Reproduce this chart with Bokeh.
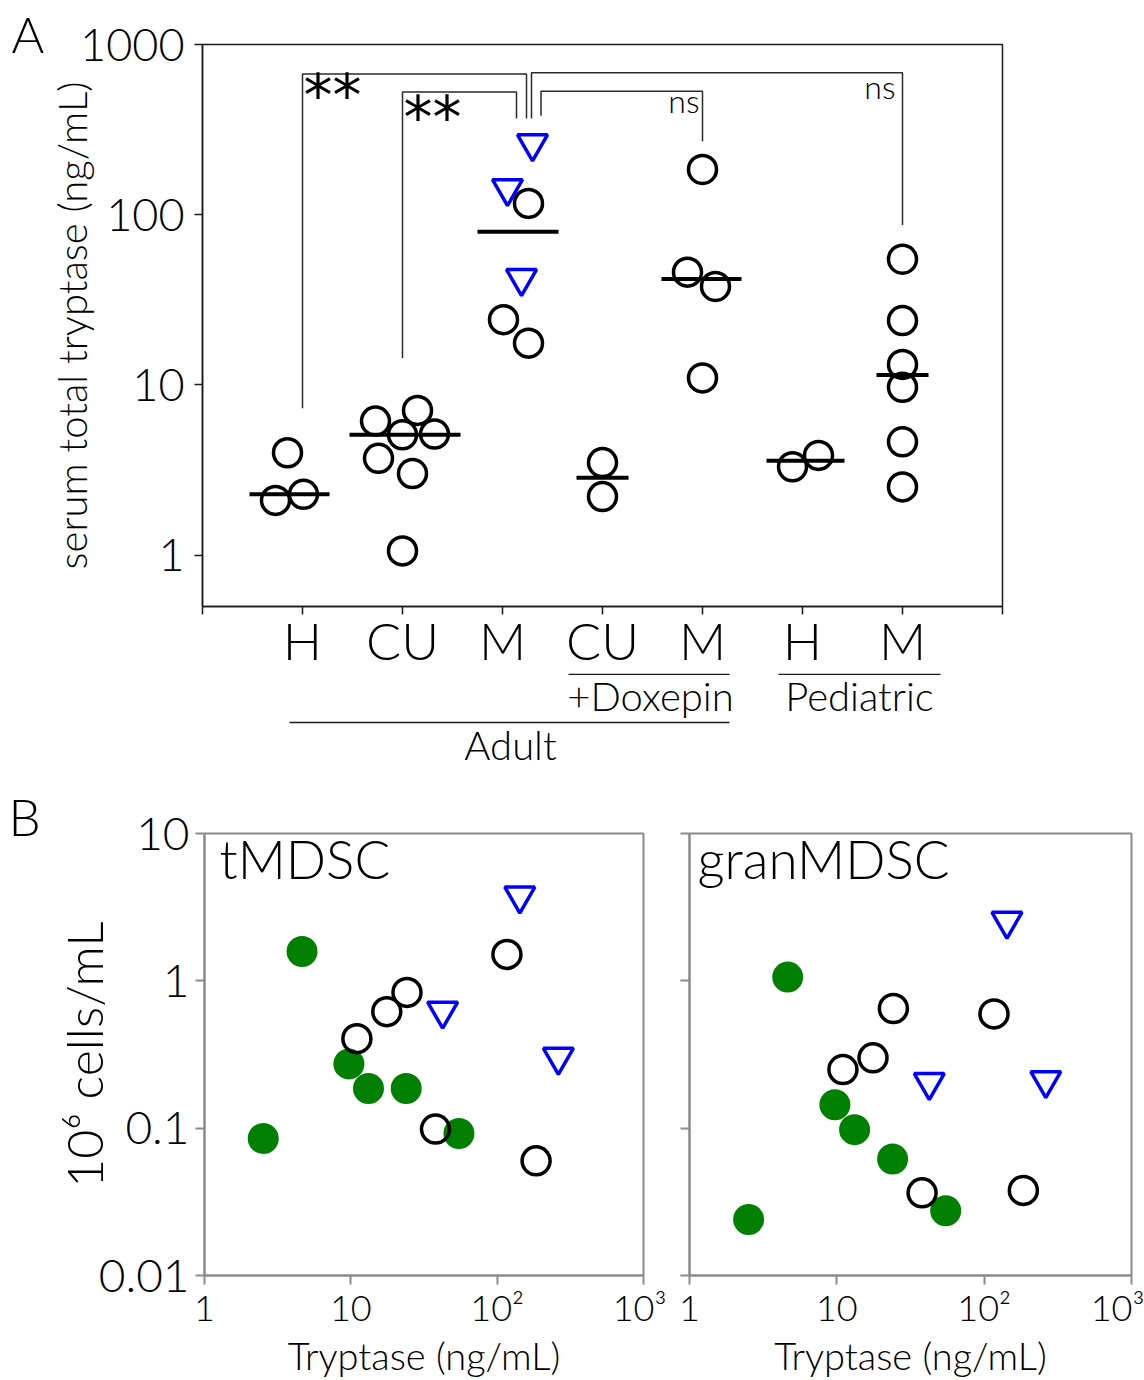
import numpy as np
from bokeh.plotting import figure
from bokeh.models import Range1d, FixedTicker, LinearAxis
from bokeh.layouts import column, row
from bokeh.embed import file_html
from bokeh.resources import INLINE
from bokeh.core.properties import value

FONT = "Lato Light"
STAR_FONT = "DejaVu Sans"
BLUE = "#0000ff"
GREEN = "#008000"
GRAY = "#8a8a8a"
DARK = "#1a1a1a"

# ---------------- Panel A: serum total tryptase (ng/mL) ----------------
categories = ["H", "CU", "M", "CU", "M", "H", "M"]

h_adult = [4.0, 2.1, 2.28]
cu_adult = [6.14, 3.71, 5.1, 7.09, 5.15, 3.02, 1.06]
m_adult_circ = [116.6, 24.2, 17.6]
m_adult_tri = [262.0, 142.8, 42.4]
cu_dox = [3.5, 2.21]
m_dox = [184.5, 46.0, 37.9, 11.0]
h_ped = [3.31, 3.86]
m_ped = [54.8, 23.9, 13.2, 9.7, 4.64, 2.52]

# horizontal spread of the points inside each column
h_adult_dx = [-0.15, -0.27, 0.01]
cu_adult_dx = [-0.27, -0.24, 0.0, 0.15, 0.32, 0.10, 0.0]
m_adult_circ_dx = [0.26, 0.01, 0.26]
m_adult_tri_dx = [0.30, 0.05, 0.19]
cu_dox_dx = [0.0, 0.0]
m_dox_dx = [0.0, -0.15, 0.13, 0.0]
h_ped_dx = [-0.10, 0.16]
m_ped_dx = [0.0, 0.0, 0.0, 0.0, 0.0, 0.0]

groups = [
    (h_adult, h_adult_dx, [], []),
    (cu_adult, cu_adult_dx, [], []),
    (m_adult_circ, m_adult_circ_dx, m_adult_tri, m_adult_tri_dx),
    (cu_dox, cu_dox_dx, [], []),
    (m_dox, m_dox_dx, [], []),
    (h_ped, h_ped_dx, [], []),
    (m_ped, m_ped_dx, [], []),
]

# significance brackets: x_left, x_right, y_top, y_left_end, y_right_end
brackets = [
    (1.0, 3.24, 671, 7.3, 367),
    (2.0, 3.14, 526, 14.4, 367),
    (3.29, 7.0, 683, 367, 87),
    (3.385, 5.0, 531, 381, 270),
]
star_labels = [("**", 1.01, 499), ("**", 2.01, 371)]
ns_labels = [("ns", 6.93, 570), ("ns", 4.97, 472)]


def letter_figure(width, height, letter, center, font_size, standoff):
    """Narrow strip left of a panel that carries the panel letter on its top axis."""
    f = figure(width=width, height=height, x_range=Range1d(0, width), y_range=Range1d(0, 1),
               x_axis_location="above", y_axis_location=None,
               min_border_left=0, min_border_right=0, min_border_top=0, min_border_bottom=0,
               toolbar_location=None, output_backend="svg")
    f.grid.visible = False
    f.outline_line_color = None
    ax = f.xaxis[0]
    ax.ticker = FixedTicker(ticks=[center])
    ax.major_label_overrides = {center: letter}
    ax.axis_line_color = None
    ax.major_tick_line_color = None
    ax.major_tick_out = 0
    ax.major_tick_in = 0
    ax.minor_tick_line_color = None
    ax.minor_tick_out = 0
    ax.major_label_standoff = standoff
    ax.major_label_text_font = FONT
    ax.major_label_text_font_size = font_size
    ax.major_label_text_color = "black"
    return f


pa_left = letter_figure(44, 673, "A", 27.5, "50px", -19)

pa = figure(width=1100, height=673, x_range=Range1d(0, 8), y_range=Range1d(0.5, 1000),
            y_axis_type="log", min_border_left=158, min_border_right=142,
            min_border_top=43, min_border_bottom=67,
            toolbar_location=None, output_backend="svg")
pa.grid.visible = False
pa.outline_line_color = DARK
pa.outline_line_width = 1.5

cx, cy, tx, ty = [], [], [], []
mx0, mx1, my = [], [], []
for i, (circ, cdx, tri, tdx) in enumerate(groups):
    pos = i + 1
    cx += [pos + d for d in cdx]
    cy += circ
    tx += [pos + d for d in tdx]
    ty += tri
    allv = list(circ) + list(tri)
    alld = list(cdx) + list(tdx)
    my.append(float(np.median(allv)))
    mx0.append(pos + min(alld) - 0.26)
    mx1.append(pos + max(alld) + 0.26)

for xl, xr, yt, yle, yre in brackets:
    pa.line([xl, xl, xr, xr], [yle, yt, yt, yre], line_color="#2a2a2a", line_width=1.5)

pa.segment(x0=mx0, y0=my, x1=mx1, y1=my, line_color="black", line_width=4)
pa.scatter(cx, cy, marker="circle", size=28, fill_color=None, line_color="black", line_width=3.5)
pa.scatter(tx, ty, marker="inverted_triangle", size=30, fill_color=None, line_color=BLUE, line_width=3.5)

for txt, x, y in star_labels:
    pa.text([x], [y], text=[txt], text_font=value(STAR_FONT), text_font_size="58px",
            text_align="left", text_baseline="alphabetic", text_color="black")
for txt, x, y in ns_labels:
    pa.text([x], [y], text=[txt], text_font=value(FONT), text_font_size="32px",
            text_align="right", text_baseline="alphabetic", text_color="black")

cat_ticks = list(range(0, len(categories) + 2))
pa.yaxis.ticker = FixedTicker(ticks=[1, 10, 100, 1000])
pa.yaxis.major_label_overrides = {1: "1", 10: "10", 100: "100", 1000: "1000"}
pa.xaxis.ticker = FixedTicker(ticks=cat_ticks)
cat_overrides = {t: "" for t in cat_ticks}
cat_overrides.update({i + 1: c for i, c in enumerate(categories)})
pa.xaxis.major_label_overrides = cat_overrides
pa.xaxis.major_label_text_font_size = "52px"
pa.xaxis.major_label_standoff = -6
for ax in (pa.xaxis[0], pa.yaxis[0]):
    ax.axis_line_color = DARK
    ax.axis_line_width = 1.5
    ax.major_tick_line_color = DARK
    ax.major_tick_line_width = 1.5
    ax.major_tick_out = 8
    ax.major_tick_in = 0
    ax.minor_tick_line_color = None
    ax.major_label_text_font = FONT
    ax.major_label_text_color = "black"
pa.yaxis.major_label_text_font_size = "45px"
pa.yaxis.major_label_standoff = 10
pa.yaxis.axis_label = "serum total tryptase (ng/mL)"
pa.yaxis.axis_label_text_font = FONT
pa.yaxis.axis_label_text_font_style = "normal"
pa.yaxis.axis_label_text_font_size = "40px"
pa.yaxis.axis_label_text_color = "black"
pa.yaxis.axis_label_standoff = -19

# ---------------- group brackets under panel A ----------------
sub_names = ["+Doxepin", "Pediatric"]
sub_spans = [(3.66, 5.27), (5.76, 7.38)]
sub_label_x = [4.48, 6.57]
adult_name = "Adult"
adult_span = (0.87, 5.27)
adult_label_x = 3.08

pg = figure(width=1144, height=102, x_range=pa.x_range, y_range=Range1d(3, 0),
            x_axis_location=None, y_axis_location=None,
            min_border_left=202, min_border_right=142, min_border_top=0, min_border_bottom=99,
            toolbar_location=None, output_backend="svg")
pg.grid.visible = False
pg.outline_line_color = None
pg.segment(x0=[s[0] for s in sub_spans], y0=[0.75] * 2,
           x1=[s[1] for s in sub_spans], y1=[0.75] * 2, line_color=DARK, line_width=1.5)

sub_axis = LinearAxis(ticker=FixedTicker(ticks=sub_label_x),
                      major_label_overrides=dict(zip(sub_label_x, sub_names)))
adult_axis = LinearAxis(ticker=FixedTicker(ticks=[adult_label_x]), bounds=adult_span,
                        major_label_overrides={adult_label_x: adult_name})
for ax, standoff in ((sub_axis, -5), (adult_axis, -2)):
    ax.major_tick_line_color = None
    ax.major_tick_out = 0
    ax.major_tick_in = 0
    ax.minor_tick_line_color = None
    ax.minor_tick_out = 0
    ax.major_label_standoff = standoff
    ax.major_label_text_font = FONT
    ax.major_label_text_font_size = "40px"
    ax.major_label_text_color = "black"
sub_axis.axis_line_color = None
adult_axis.axis_line_color = DARK
adult_axis.axis_line_width = 1.5
pg.add_layout(sub_axis, "below")
pg.add_layout(adult_axis, "below")

# ---------------- Panel B: MDSC counts vs tryptase ----------------
m_circ_tryptase = [11.0, 17.6, 24.2, 37.9, 116.6, 184.5]
m_circ_tmdsc = [0.405, 0.618, 0.834, 0.0986, 1.51, 0.060]
m_circ_granmdsc = [0.25, 0.30, 0.649, 0.0364, 0.596, 0.0378]

m_tri_tryptase = [142.8, 42.4, 262.0]
m_tri_tmdsc = [3.78, 0.625, 0.304]
m_tri_granmdsc = [2.55, 0.205, 0.211]

ped_tryptase = [4.64, 2.52, 9.7, 13.2, 23.9, 54.8]
ped_tmdsc = [1.58, 0.085, 0.273, 0.186, 0.186, 0.092]
ped_granmdsc = [1.06, 0.024, 0.144, 0.0977, 0.0617, 0.0275]

x_ticks_b = [1, 10, 100, 1000]
x_tick_labels_b = ["1", "10", "10\u00b2", "10\u00b3"]
y_ticks_b = [0.01, 0.1, 1, 10]
y_tick_labels_b = ["0.01", "0.1", "1", "10"]


def scatter_panel(name, circ_y, tri_y, ped_y, width, left, right, name_dx, ylabels):
    p = figure(width=width, height=605, x_axis_type="log", y_axis_type="log",
               x_range=Range1d(1, 1000), y_range=Range1d(0.01, 10),
               min_border_left=left, min_border_right=right, min_border_top=58, min_border_bottom=104,
               toolbar_location=None, output_backend="svg")
    p.grid.visible = False
    p.outline_line_color = GRAY
    p.outline_line_width = 2
    p.scatter(ped_tryptase, ped_y, marker="circle", size=31, fill_color=GREEN, line_color=None)
    p.scatter(m_circ_tryptase, circ_y, marker="circle", size=28, fill_color=None,
              line_color="black", line_width=3.5)
    p.scatter(m_tri_tryptase, tri_y, marker="inverted_triangle", size=30, fill_color=None,
              line_color=BLUE, line_width=3.5)
    p.xaxis.ticker = FixedTicker(ticks=x_ticks_b)
    p.xaxis.major_label_overrides = dict(zip(x_ticks_b, x_tick_labels_b))
    p.yaxis.ticker = FixedTicker(ticks=y_ticks_b)
    if ylabels:
        p.yaxis.major_label_overrides = dict(zip(y_ticks_b, y_tick_labels_b))
        p.yaxis.major_label_text_font_size = "46px"
        p.yaxis.major_label_standoff = 6
    else:
        p.yaxis.major_label_overrides = {t: "" for t in y_ticks_b}
        p.yaxis.major_label_text_font_size = "2px"
        p.yaxis.major_label_standoff = 0
    for ax in (p.xaxis[0], p.yaxis[0]):
        ax.axis_line_color = GRAY
        ax.axis_line_width = 2
        ax.major_tick_line_color = GRAY
        ax.major_tick_line_width = 2
        ax.major_tick_out = 9
        ax.major_tick_in = 0
        ax.minor_tick_line_color = None
        ax.major_label_text_font = FONT
        ax.major_label_text_color = "black"
    p.xaxis.major_label_text_font_size = "36px"
    p.xaxis.major_label_standoff = 0
    p.xaxis.axis_label = "Tryptase (ng/mL)"
    p.xaxis.axis_label_text_font = FONT
    p.xaxis.axis_label_text_font_style = "normal"
    p.xaxis.axis_label_text_font_size = "38px"
    p.xaxis.axis_label_text_color = "black"
    p.xaxis.axis_label_standoff = 0
    # panel name in the upper-left corner of the frame
    p.text([1], [10], text=[name], text_font=value(FONT), text_font_size="53px",
           x_offset=name_dx, y_offset=25, text_align="left", text_baseline="alphabetic",
           text_color="black")
    return p


pb_left = letter_figure(50, 605, "B", 24.2, "51px", -13)

pb1 = scatter_panel("tMDSC", m_circ_tmdsc, m_tri_tmdsc, ped_tmdsc, 616, 152, 23, 15, True)
pb2 = scatter_panel("granMDSC", m_circ_granmdsc, m_tri_granmdsc, ped_granmdsc, 478, 23, 13, 8, False)
pb1.yaxis.axis_label = "10\u2076 cells/mL"
pb1.yaxis.axis_label_text_font = FONT
pb1.yaxis.axis_label_text_font_style = "normal"
pb1.yaxis.axis_label_text_font_size = "50px"
pb1.yaxis.axis_label_text_color = "black"
pb1.yaxis.axis_label_standoff = -18

layout = column(row(pa_left, pa), pg, row(pb_left, pb1, pb2))
open("out.html", "w").write(file_html(layout, INLINE))
